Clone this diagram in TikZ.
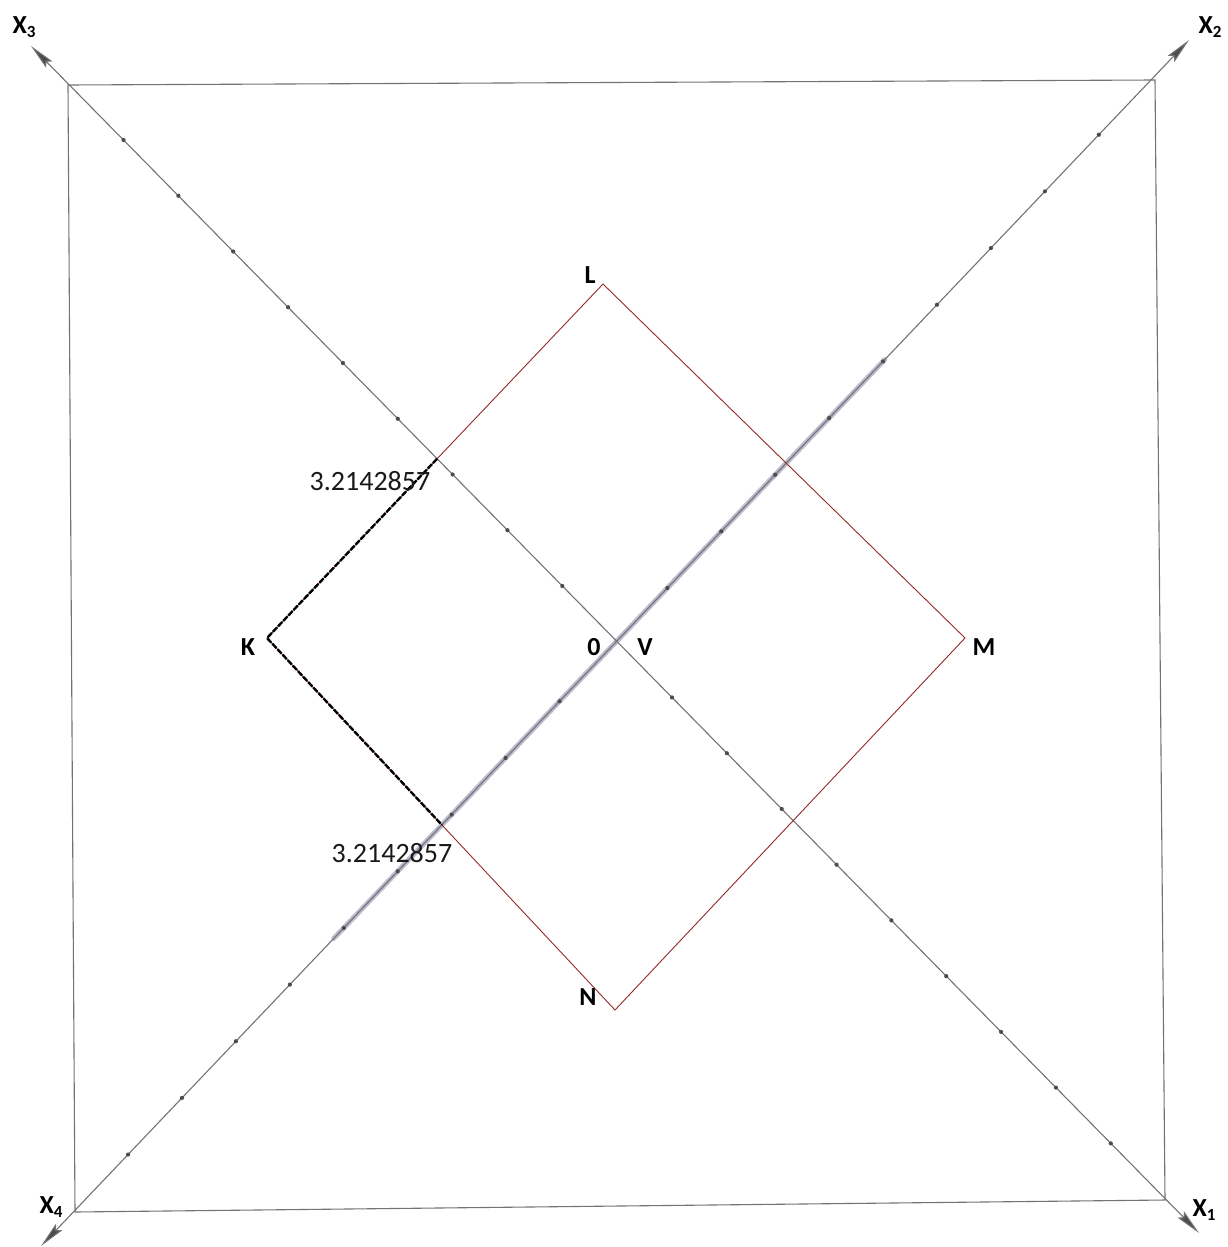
\documentclass[tikz,border=0pt]{standalone}
\usepackage{fontspec}
\setmainfont{Carlito}
\usetikzlibrary{arrows.meta,calc}
\definecolor{bandcol}{RGB}{188,188,208}
\definecolor{redcol}{RGB}{150,40,40}
\begin{document}
\begin{tikzpicture}[x=1pt,y=-1pt,
  axisline/.style={draw=black!55,line width=1.1pt},
  frameline/.style={draw=black!55,line width=1.1pt},
  redline/.style={draw=redcol,line width=0.9pt},
  kline/.style={draw=black,line width=2.4pt,dash pattern=on 6pt off 1.5pt},
  band/.style={draw=bandcol,line width=5pt,line cap=round},
  tickdot/.style={fill=black!70,draw=none},
  lab/.style={font=\fontsize{26}{26}\selectfont\bfseries,text=black,inner sep=0pt},
  numlab/.style={font=\fontsize{28}{28}\selectfont,text=black!90,inner sep=0pt},
  axtip/.style={{Stealth[length=26pt,width=9pt,inset=4pt,fill=black!70]}-{Stealth[length=26pt,width=9pt,inset=4pt,fill=black!70]}}
]
\useasboundingbox (0,0) rectangle (1227,1247);
% frame corners
\coordinate (C3) at (68,85);
\coordinate (C2) at (1155,80);
\coordinate (C1) at (1165,1200);
\coordinate (C4) at (75,1212);
% arrow tips
\coordinate (T3) at (31,46);
\coordinate (T2) at (1189,40);
\coordinate (T1) at (1199,1233);
\coordinate (T4) at (41,1246);
% frame
\draw[frameline] (C3) -- (C2) -- (C1) -- (C4) -- cycle;
% band on X2 axis
\coordinate (B1) at ($(T4)!0.255!(T2)$);
\coordinate (B2) at ($(T4)!0.735!(T2)$);
\draw[band] (B1) -- (B2);
% axes
\draw[axisline,axtip] (T3) -- (T1);
\draw[axisline,axtip] (T4) -- (T2);
% tick dots
\coordinate (D3) at ($(T3)!(C3)!(T1)$);
\coordinate (D1) at ($(T3)!(C1)!(T1)$);
\coordinate (D4) at ($(T4)!(C4)!(T2)$);
\coordinate (D2) at ($(T4)!(C2)!(T2)$);
\foreach \i in {1,...,9,11,12,...,19}{
  \fill[tickdot] ($(D3)!\i/20!(D1)$) circle (2.1);
  \fill[tickdot] ($(D4)!\i/20!(D2)$) circle (2.1);
}
% diamond
\coordinate (L) at (603,284);
\coordinate (M) at (965,638);
\coordinate (N) at (615,1010);
\coordinate (K) at (267,638);
\coordinate (P1) at (intersection of K--L and T3--T1);
\coordinate (P2) at (intersection of K--N and T4--T2);
\draw[redline] (K) -- (L) -- (M) -- (N) -- cycle;
\draw[kline] (P1) -- (K) -- (P2);
% labels
\node[lab] (lX3) at (24,27) {X\raisebox{-0.35ex}{\fontsize{17}{17}\selectfont 3}};
\node[lab] (lX2) at (1210,27) {X\raisebox{-0.35ex}{\fontsize{17}{17}\selectfont 2}};
\node[lab] (lX4) at (51,1207) {X\raisebox{-0.35ex}{\fontsize{17}{17}\selectfont 4}};
\node[lab] (lX1) at (1204,1210) {X\raisebox{-0.35ex}{\fontsize{17}{17}\selectfont 1}};
\node[lab] (lL) at (590,275) {L};
\node[lab] (lK) at (248,647) {K};
\node[lab] (lM) at (984,647) {M};
\node[lab] (lN) at (588,997) {N};
\node[lab] (l0) at (594,647) {0};
\node[lab] (lV) at (645,647) {V};
\node[numlab] (n1) at (370,481) {3.2142857};
\node[numlab] (n2) at (392,853) {3.2142857};
\end{tikzpicture}
\end{document}
